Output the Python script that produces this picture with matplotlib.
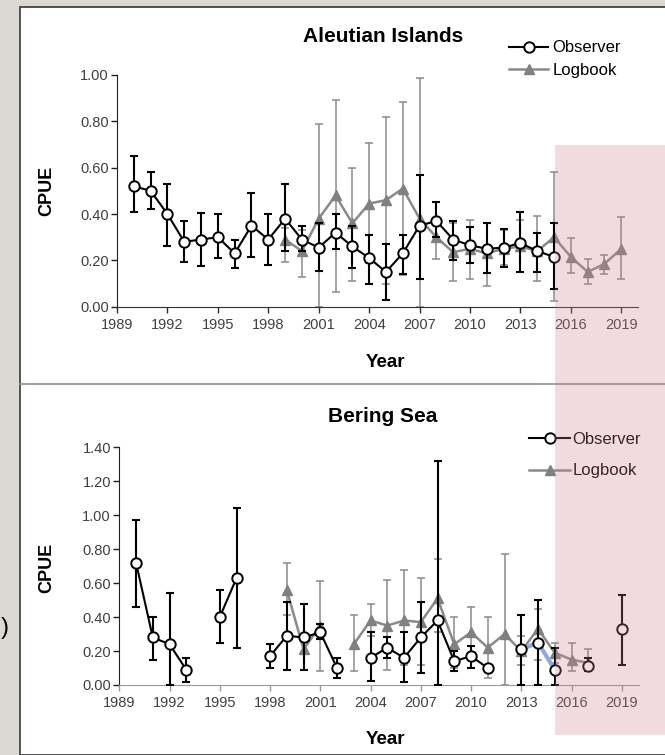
#CPUE by year, observer vs logbook, two regions

import numpy as np
import matplotlib.pyplot as plt
from matplotlib.patches import Rectangle
from matplotlib.lines import Line2D

plt.rcParams['font.family'] = ['Liberation Sans', 'DejaVu Sans']

years = np.arange(1990, 2020)
nan = np.nan

# Aleutian Islands - observer (1990-2015)
ai_obs = [0.52, 0.50, 0.40, 0.28, 0.29, 0.30, 0.23, 0.35, 0.29, 0.38,
          0.29, 0.255, 0.32, 0.26, 0.21, 0.15, 0.23, 0.35, 0.37, 0.29,
          0.265, 0.25, 0.255, 0.275, 0.24, 0.215, nan, nan, nan, nan]
ai_obs_lo = [0.41, 0.42, 0.26, 0.195, 0.175, 0.21, 0.165, 0.215, 0.18, 0.24,
             0.24, 0.155, 0.25, 0.165, 0.10, 0.03, 0.14, 0.12, 0.30, 0.20,
             0.19, 0.145, 0.17, 0.15, 0.15, 0.075, nan, nan, nan, nan]
ai_obs_hi = [0.65, 0.58, 0.53, 0.37, 0.405, 0.40, 0.29, 0.49, 0.40, 0.53,
             0.35, 0.36, 0.40, 0.35, 0.31, 0.27, 0.31, 0.57, 0.45, 0.37,
             0.345, 0.36, 0.335, 0.41, 0.32, 0.36, nan, nan, nan, nan]

# Aleutian Islands - logbook (1999-2019)
ai_log = [nan]*9 + [0.29, 0.24, 0.38, 0.48, 0.36, 0.445, 0.46, 0.51, 0.38, 0.30,
                    0.235, 0.25, 0.23, 0.25, 0.26, 0.24, 0.30, 0.215, 0.15, 0.185, 0.25]
ai_log_lo = [nan]*9 + [0.195, 0.13, 0.0, 0.065, 0.11, 0.19, 0.10, 0.135, 0.0, 0.205,
                       0.11, 0.12, 0.09, 0.18, 0.15, 0.11, 0.025, 0.145, 0.10, 0.14, 0.12]
ai_log_hi = [nan]*9 + [0.34, 0.33, 0.79, 0.89, 0.60, 0.705, 0.82, 0.885, 0.985, 0.36,
                       0.36, 0.375, 0.36, 0.33, 0.375, 0.39, 0.58, 0.295, 0.205, 0.225, 0.385]

# Bering Sea - observer
bs_obs = [0.72, 0.28, 0.24, 0.09, nan, 0.40, 0.63, nan, 0.17, 0.29,
          0.28, 0.31, 0.10, nan, 0.16, 0.22, 0.16, 0.28, 0.38, 0.14,
          0.17, 0.10, nan, 0.21, 0.25, 0.09, nan, 0.11, nan, 0.33]
bs_obs_lo = [0.46, 0.15, 0.0, 0.02, nan, 0.245, 0.22, nan, 0.10, 0.09,
             0.09, 0.27, 0.04, nan, 0.025, 0.16, 0.02, 0.07, 0.0, 0.08,
             0.10, 0.10, nan, 0.0, 0.0, 0.0, nan, 0.08, nan, 0.12]
bs_obs_hi = [0.97, 0.40, 0.54, 0.16, nan, 0.56, 1.04, nan, 0.24, 0.49,
             0.48, 0.36, 0.16, nan, 0.31, 0.28, 0.31, 0.49, 1.32, 0.20,
             0.23, 0.10, nan, 0.41, 0.50, 0.22, nan, 0.16, nan, 0.53]

# Bering Sea - logbook
bs_log = [nan]*9 + [0.56, 0.21, 0.35, nan, 0.24, 0.38, 0.35, 0.38, 0.37, 0.51,
                    0.24, 0.31, 0.22, 0.30, 0.20, 0.33, 0.19, 0.15, 0.13, nan, nan]
bs_log_lo = [nan]*9 + [0.41, 0.09, 0.08, nan, 0.08, 0.29, 0.09, 0.12, 0.12, 0.31,
                       0.10, 0.17, 0.04, 0.0, 0.12, 0.15, 0.13, 0.08, 0.08, nan, nan]
bs_log_hi = [nan]*9 + [0.72, 0.30, 0.61, nan, 0.41, 0.48, 0.62, 0.68, 0.63, 0.74,
                       0.40, 0.46, 0.40, 0.77, 0.29, 0.45, 0.25, 0.245, 0.21, nan, nan]

W, H = 665, 755

def px_rect(x0, y0, x1, y1):
    return [x0/W, 1-y1/H, (x1-x0)/W, (y1-y0)/H]

fig = plt.figure(figsize=(W/100, H/100), dpi=100, facecolor='#dcd9d4')

# white slide panel + divider
fig.patches.append(Rectangle((20/W, 0), 1, 1-7/H, transform=fig.transFigure,
                             facecolor='white', edgecolor='#454545', lw=1.3, zorder=-2))
fig.lines.append(Line2D([20/W, 1], [1-384/H, 1-384/H], transform=fig.transFigure,
                        color='#8c8c8c', lw=1.2))

def draw_panel(ax, obs, olo, ohi, log, llo, lhi, ymax, xcolor):
    obs = np.array(obs); log = np.array(log)
    oerr = [obs-np.array(olo), np.array(ohi)-obs]
    lerr = [log-np.array(llo), np.array(lhi)-log]
    ax.errorbar(years, log, yerr=lerr, fmt='none', ecolor='#8a8a8a', elinewidth=1.1,
                capsize=3, capthick=1.1, zorder=2)
    lline, = ax.plot(years, log, color='#8a8a8a', lw=1.8, marker='^', ms=7,
                     mfc='#808080', mec='#808080', zorder=3, label='Logbook')
    ax.errorbar(years, obs, yerr=oerr, fmt='none', ecolor='black', elinewidth=1.5,
                capsize=3, capthick=1.5, zorder=4)
    ax.set_xlim(1989, 2020)
    ax.set_ylim(0, ymax)
    ax.set_xticks(np.arange(1989, 2020, 3))
    ax.set_yticks(np.arange(0, ymax+0.01, 0.2))
    ax.yaxis.set_major_formatter(plt.FormatStrFormatter('%.2f'))
    ax.tick_params(labelsize=10.5, labelcolor='#404040', length=4, width=1, direction='out')
    ax.tick_params(axis='x', pad=4, colors=xcolor, labelcolor='#404040')
    ax.tick_params(axis='y', pad=2, colors='#202020', labelcolor='#404040')
    for s in ['top', 'right']:
        ax.spines[s].set_visible(False)
    ax.spines['left'].set_color('#202020')
    ax.spines['bottom'].set_color(xcolor)
    ax.patch.set_alpha(0)
    return lline

# Aleutian Islands
ax1 = fig.add_axes(px_rect(117, 75, 638.1, 306.7))
lg1 = draw_panel(ax1, ai_obs, ai_obs_lo, ai_obs_hi, ai_log, ai_log_lo, ai_log_hi, 1.0, '#303030')
ob1, = ax1.plot(years, ai_obs, color='black', lw=1.5, marker='o', ms=7.5,
                mfc='white', mec='black', mew=1.4, zorder=5, label='Observer')
ax1.legend(handles=[ob1, lg1], loc='upper left', bbox_to_anchor=(501/W, 1-32/H),
           bbox_transform=fig.transFigure, frameon=False, fontsize=12, borderpad=0,
           handlelength=2.35, handletextpad=0.25, labelspacing=0.44, numpoints=1)

# Bering Sea
ax2 = fig.add_axes(px_rect(119.3, 447.3, 638.5, 685))
lg2 = draw_panel(ax2, bs_obs, bs_obs_lo, bs_obs_hi, bs_log, bs_log_lo, bs_log_hi, 1.4, '#9a9a9a')
bs = np.array(bs_obs)
early = np.where(years <= 2012, bs, nan)
late = np.where(years >= 2013, bs, nan)
ax2.plot(years, late, color='#8eaadb', lw=3, zorder=4.5)
ob2, = ax2.plot(years, early, color='black', lw=1.5, marker='o', ms=7.5,
                mfc='white', mec='black', mew=1.4, zorder=5, label='Observer')
ax2.plot(years, late, color='none', lw=0, marker='o', ms=7.5,
         mfc='white', mec='black', mew=1.4, zorder=5)
ax2.legend(handles=[ob2, lg2], loc='upper left', bbox_to_anchor=(521/W, 1-423.5/H),
           bbox_transform=fig.transFigure, frameon=False, fontsize=12, borderpad=0,
           handlelength=2.45, handletextpad=0.15, labelspacing=0.99, numpoints=1)

# titles and axis labels
fig.text(383/W, 1-37/H, 'Aleutian Islands', ha='center', va='center', fontsize=15, fontweight='bold')
fig.text(383/W, 1-417/H, 'Bering Sea', ha='center', va='center', fontsize=15, fontweight='bold')
fig.text(46.7/W, 1-191/H, 'CPUE', rotation=90, ha='center', va='center', fontsize=13, fontweight='bold')
fig.text(46.7/W, 1-568/H, 'CPUE', rotation=90, ha='center', va='center', fontsize=13, fontweight='bold')
fig.text(385/W, 1-363/H, 'Year', ha='center', va='center', fontsize=13.5, fontweight='bold')
fig.text(385/W, 1-740/H, 'Year', ha='center', va='center', fontsize=13.5, fontweight='bold')

# stray character at the left edge of the slide
fig.text(1/W, 1-628/H, ')', ha='left', va='center', fontsize=17)

# pink highlight over the recent years
fig.patches.append(Rectangle((555/W, 1-735/H), 110/W, 590/H, transform=fig.transFigure,
                             facecolor=(0.83, 0.49, 0.57), alpha=0.28, edgecolor='none', zorder=10))

plt.savefig('out.png', dpi=100, facecolor=fig.get_facecolor())
